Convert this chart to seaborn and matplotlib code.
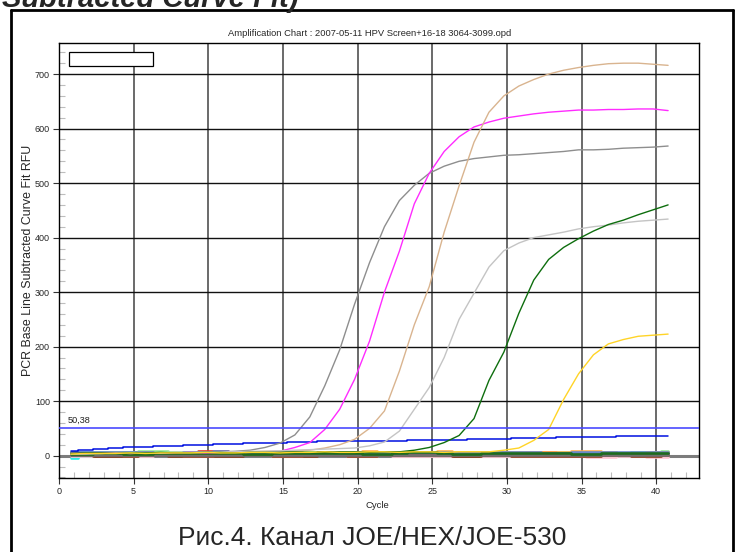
import matplotlib
matplotlib.use("Agg")
import matplotlib.pyplot as plt
import numpy as np
import pandas as pd
import seaborn as sns
from matplotlib.ticker import MultipleLocator
from matplotlib.patches import Rectangle
from matplotlib.lines import Line2D

# ---- data -------------------------------------------------------------
cycles = list(range(1, 42))

# amplification curves (RFU after baseline subtraction)
well_grey = [5, 5, 4, 5, 5, 6, 5, 5, 6, 6, 7, 8,
             10, 15, 23, 38, 71, 128, 194, 278, 354, 420, 468, 496, 518, 531,
             540, 545, 548, 551, 552, 554, 556, 558, 561, 561, 562, 564, 565,
             566, 568]
well_magenta = [4, 4, 5, 5, 4, 5, 5, 5, 6, 5, 6, 6, 6, 7,
                8, 15, 24, 48, 85, 140, 210, 300, 375, 462, 518, 558, 585,
                603, 612, 619, 623, 627, 630, 632, 634, 634, 635, 635, 636,
                636, 633]
well_tan = [3, 4, 4, 5, 4, 5, 5, 6, 5, 6, 6, 7, 7, 8, 8, 9,
            10, 14, 20, 30, 50, 82, 155, 240, 310, 410, 495, 575, 630, 660,
            678, 690, 700, 707, 712, 716, 719, 720, 720, 718, 716]
well_silver = [3, 3, 4, 4, 5, 5, 5, 6, 6, 6, 7, 7, 8, 8, 9, 10, 11, 12, 13,
               14, 18, 25, 45, 85, 125, 180, 250, 298, 346, 376, 390, 400,
               405, 410, 416, 420, 423, 427, 430, 432, 434]
well_green = [4, 5, 5, 4, 5, 5, 6, 5, 5, 6, 6, 5, 6, 6, 6, 7, 6, 6, 7, 7,
              6, 7, 7, 10, 15, 24, 37, 68, 138, 190, 261, 322, 360, 382, 398,
              412, 424, 432, 442, 451, 460]
well_gold = [3, 4, 4, 4, 5, 4, 5, 5, 5, 6, 5, 5, 6, 6, 5, 6, 6, 7, 6, 6,
             7, 7, 6, 7, 7, 6, 7, 7, 7, 10, 14, 28, 48, 103, 150, 185, 205,
             213, 219, 221, 223]
well_blue = [9, 10, 12, 14, 15, 16, 17, 18, 19, 20, 21, 22, 23, 23, 24, 25,
             25, 26, 26, 26, 26, 27, 27, 28, 28, 29, 29, 30, 30, 31, 32, 32,
             33, 34, 34, 35, 35, 36, 36, 36, 36]

# negative wells hovering around zero
neg_cyan = [-5, 0, 2, 3, 3, 4, 3, 4, 4, 5,
            4, 4, 5, 5, 4, 4, 5, 5, 6, 5,
            5, 6, 5, 4, 5, 5, 6, 5, 4, 5,
            5, 4, 5, 6, 5, 5, 4, 5, 6, 5,
            6]
neg_green = [6, 6, 5, 5, 6, 6, 5, 5, 6, 5,
             5, 6, 6, 5, 5, 4, 5, 5, 6, 5,
             4, 5, 6, 6, 5, 4, 5, 6, 5, 5,
             6, 5, 4, 5, 5, 6, 6, 5, 5, 6,
             7]
neg_lightgreen = [4, 5, 6, 6, 7, 8, 8, 7, 6, 6,
                  7, 6, 5, 6, 7, 7, 6, 6, 5, 4,
                  4, 5, 6, 7, 6, 5, 5, 6, 6, 7,
                  6, 5, 6, 7, 7, 6, 6, 5, 6, 7,
                  8]
neg_red = [3, 3, 2, 2, 3, 3, 3, 4, 5, 8,
           8, 5, 4, 3, 3, 2, 2, 3, 3, 4,
           4, 3, 3, 2, 3, 4, 4, 3, 3, 4,
           5, 6, 6, 4, 3, 3, 2, 2, 3, 3,
           4]
neg_pink = [0, 0, 1, 1, 0, 0, 1, 1, 0, 0,
            1, 1, 2, 1, 0, 0, 1, 1, 1, 0,
            0, 1, 0, -1, -1, 0, 1, 1, 0, 0,
            -1, -1, 0, 0, -1, -2, -2, -1, -1, -2,
            -2]
neg_purple = [2, 2, 3, 3, 2, 2, 1, 1, 2, 3,
              3, 4, 4, 3, 2, 2, 3, 3, 2, 2,
              3, 3, 2, 2, 3, 4, 4, 3, 2, 1,
              1, 2, 3, 3, 4, 4, 5, 4, 4, 3,
              3]
neg_orange = [4, 4, 5, 5, 4, 4, 3, 3, 4, 5,
              5, 4, 4, 5, 6, 6, 5, 5, 6, 7,
              8, 7, 6, 6, 7, 8, 7, 6, 6, 7,
              7, 6, 6, 7, 8, 8, 6, 5, 5, 6,
              6]
neg_brown = [1, 1, 0, 0, 0, 1, 1, 0, 0, -1,
             -1, 0, 1, 1, 0, 0, 0, 1, 1, 0,
             0, 1, 2, 2, 1, 1, 0, 0, 1, 1,
             0, 0, -1, -1, 0, 0, 1, 1, 0, 0,
             1]
neg_slate = [6, 5, 5, 4, 4, 3, 3, 4, 5, 6,
             7, 6, 5, 4, 4, 5, 5, 6, 4, 3,
             3, 4, 5, 6, 6, 5, 4, 4, 3, 3,
             4, 5, 5, 4, 3, 3, 4, 4, 5, 5,
             4]
neg_steel = [5, 6, 6, 7, 7, 6, 5, 5, 6, 7,
             8, 7, 6, 6, 7, 6, 5, 5, 6, 6,
             5, 5, 6, 7, 6, 6, 5, 5, 6, 6,
             7, 6, 5, 5, 6, 7, 7, 6, 6, 7,
             7]
neg_grey = [2, 2, 1, 1, 2, 2, 1, 1, 1, 2,
            2, 1, 1, 2, 2, 1, 1, 1, 2, 2,
            1, 1, 2, 2, 1, 1, 1, 2, 2, 1,
            1, 2, 2, 1, 1, 1, 2, 2, 1, 1,
            2]
neg_darkgreen = [3, 3, 4, 4, 3, 3, 4, 4, 5, 5,
                 4, 4, 3, 3, 4, 4, 5, 5, 4, 4,
                 3, 3, 5, 6, 6, 4, 3, 3, 4, 4,
                 5, 5, 4, 4, 3, 3, 4, 4, 5, 5,
                 4]

threshold = 50.38
threshold_label = "50,38"

x_ticks = [0, 5, 10, 15, 20, 25, 30, 35, 40]
y_ticks = [0, 100, 200, 300, 400, 500, 600, 700]

chart_title = "Amplification Chart : 2007-05-11 HPV Screen+16-18 3064-3099.opd"
x_label = "Cycle"
y_label = "PCR Base Line Subtracted Curve Fit RFU"
caption = "Рис.4. Канал JOE/HEX/JOE-530"
header_tail = "Subtracted Curve Fit)"

# ---- styling ----------------------------------------------------------
positive = {
    "grey": (well_grey, "#8E8E8E"),
    "magenta": (well_magenta, "#FF2BFF"),
    "tan": (well_tan, "#D9B48F"),
    "silver": (well_silver, "#C4C4C4"),
    "green": (well_green, "#0E6E0E"),
    "gold": (well_gold, "#FFD427"),
}
negative = {
    "cyan": (neg_cyan, "#2CE8E8"),
    "green": (neg_green, "#3CB371"),
    "lightgreen": (neg_lightgreen, "#98E898"),
    "red": (neg_red, "#E03535"),
    "pink": (neg_pink, "#FFC6D2"),
    "purple": (neg_purple, "#B060E0"),
    "orange": (neg_orange, "#FFB050"),
    "brown": (neg_brown, "#8B3A1A"),
    "slate": (neg_slate, "#2F5F4F"),
    "steel": (neg_steel, "#6A88C8"),
    "grey": (neg_grey, "#707070"),
    "darkgreen": (neg_darkgreen, "#1E6B1E"),
}
X_SHIFT = -0.2  # instrument draws each read slightly left of its cycle mark


def long_frame(series):
    frames = []
    for name, (vals, _) in series.items():
        frames.append(pd.DataFrame({"x": np.array(cycles) + X_SHIFT,
                                    "rfu": vals, "well": name}))
    return pd.concat(frames, ignore_index=True)


sns.set_style("white")
plt.rcParams["font.family"] = ["Liberation Sans", "DejaVu Sans"]

W, H = 739, 552
fig = plt.figure(figsize=(W / 100, H / 100), dpi=100)
fig.patch.set_facecolor("white")
ax = fig.add_axes([59 / W, 1 - 478 / H, 640 / W, 435 / H])
ax.set_facecolor("white")

ax.set_xlim(0, 42.87)
ax.set_ylim(-41, 757)

# grid
ax.set_xticks(x_ticks)
ax.set_yticks(y_ticks)
ax.set_axisbelow(True)
ax.xaxis.grid(True, color="#5E5E5E", lw=1.3)
ax.yaxis.grid(True, color="#111111", lw=1.0)
ax.axhline(0, color="#7C7C7C", lw=2.2, zorder=1.5)

# curves
sns.lineplot(data=long_frame(negative), x="x", y="rfu", hue="well",
             palette={k: c for k, (_, c) in negative.items()},
             estimator=None, sort=False, legend=False, lw=1.9,
             drawstyle="steps-mid", ax=ax, zorder=2)
blue_df = pd.DataFrame({"x": np.array(cycles) + X_SHIFT, "rfu": well_blue})
sns.lineplot(data=blue_df, x="x", y="rfu", color="#0010E0", lw=1.1,
             drawstyle="steps-mid", estimator=None, ax=ax, zorder=3)
sns.lineplot(data=long_frame(positive), x="x", y="rfu", hue="well",
             palette={k: c for k, (_, c) in positive.items()},
             estimator=None, sort=False, legend=False, lw=1.0, ax=ax, zorder=3)

ax.axhline(threshold, color="#4A4AFF", lw=1.2, zorder=4)
ax.annotate(threshold_label, xy=(0.6, threshold), xytext=(0, 2.4),
            textcoords="offset points", fontsize=6.6, va="bottom",
            ha="left", color="#222222")

# empty legend frame
ax.add_patch(Rectangle((10 / 640, 1 - 23 / 435), 84 / 640, 14 / 435,
                       transform=ax.transAxes, facecolor="white",
                       edgecolor="black", lw=0.9, zorder=5))

# ticks and spines
ax.xaxis.set_minor_locator(MultipleLocator(1))
ax.yaxis.set_minor_locator(MultipleLocator(20))
ax.tick_params(which="major", direction="out", length=4, width=0.8,
               color="#333333", labelsize=6.5, pad=2.5,
               bottom=True, left=True, top=False, right=False)
ax.tick_params(which="minor", direction="in", length=4, width=0.8,
               color="#BDBDBD", bottom=True, left=True, top=False, right=False)
for s in ax.spines.values():
    s.set_color("black")
    s.set_linewidth(1.0)
ax.set_xlabel("")
ax.set_ylabel("")

# text
fig.text(370 / W, 1 - 33 / H, chart_title, ha="center", va="center",
         fontsize=6.75)
fig.text(377 / W, 1 - 506 / H, x_label, ha="center", va="center",
         fontsize=6.8)
fig.text(28 / W, 1 - 260 / H, y_label, ha="center", va="center",
         rotation=90, fontsize=8.9)
fig.text(372 / W, 7 / H, caption, ha="center", va="baseline", fontsize=19)
fig.text(2 / W, 1 - 7 / H, header_tail, ha="left", va="baseline",
         fontsize=21, fontweight="bold", fontstyle="italic")

# page frame around the chart
frame_kw = dict(color="black", lw=2.0, transform=fig.transFigure)
fig.add_artist(Line2D([11 / W, 733 / W], [1 - 9.5 / H, 1 - 9.5 / H], **frame_kw))
fig.add_artist(Line2D([11 / W, 11 / W], [0, 1 - 9.5 / H], **frame_kw))
fig.add_artist(Line2D([733 / W, 733 / W], [0, 1 - 9.5 / H], **frame_kw))

fig.savefig("out.png", dpi=100, facecolor="white")
